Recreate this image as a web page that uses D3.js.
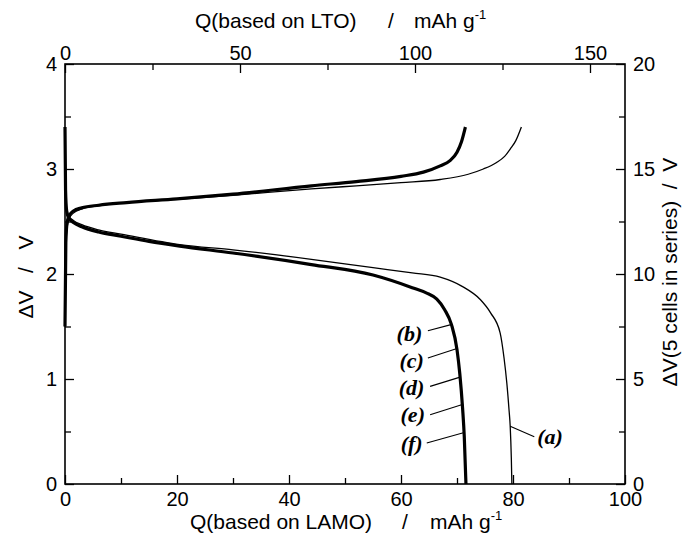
<!DOCTYPE html>
<html>
<head>
<meta charset="utf-8">
<script src="https://cdn.jsdelivr.net/npm/d3@7"></script>
<style>
  body { margin: 0; background: #fff; }
  .tick text { font-family: "Liberation Sans", Arial, sans-serif; font-size: 20px; fill: #000; }
  .title { font-family: "Liberation Sans", Arial, sans-serif; font-size: 21px; fill: #000; }
  .lab { font-family: "Liberation Serif", "Times New Roman", serif; font-size: 22px; font-weight: bold; font-style: italic; fill: #000; }
</style>
</head>
<body>
<svg id="chart" width="683" height="534"></svg>
<script>

// charge (upper) and discharge (lower) curves, Q based on LAMO / mAh g-1, dV / V
var chargeQ_a = [0, 0.15, 0.4, 0.8, 1.5, 3, 6, 11, 20, 30, 44, 52, 60, 67, 72, 74.7, 77, 78.5, 79.5, 80.5, 81.5];
var chargeV_a = [1.5, 2.25, 2.45, 2.53, 2.58, 2.62, 2.65, 2.68, 2.71, 2.75, 2.81, 2.84, 2.87, 2.9, 2.95, 3.0, 3.06, 3.12, 3.19, 3.27, 3.40];

var dischargeQ_a = [0, 0.1, 0.3, 0.7, 1.5, 3, 6, 10, 20.5, 30, 44, 55, 62, 67, 71, 74.1, 76, 77.7, 78.4, 78.9, 79.3, 79.5, 79.7, 79.8];
var dischargeV_a = [3.4, 2.8, 2.62, 2.55, 2.51, 2.47, 2.42, 2.38, 2.28, 2.23, 2.14, 2.06, 2.01, 1.97, 1.88, 1.76, 1.63, 1.44, 1.2, 0.96, 0.7, 0.55, 0.25, 0];

// (b)-(f) lie on top of each other, drawn as one heavy curve
var chargeQ_bf = [0, 0.15, 0.4, 0.8, 1.5, 3, 6, 11, 20, 30, 44, 52, 60, 64, 67, 68.75, 70, 70.8, 71.5];
var chargeV_bf = [1.5, 2.3, 2.5, 2.56, 2.6, 2.63, 2.655, 2.68, 2.715, 2.76, 2.84, 2.88, 2.93, 2.97, 3.03, 3.08, 3.16, 3.26, 3.40];

var dischargeQ_bf = [0, 0.1, 0.3, 0.7, 1.5, 3, 6, 10, 15, 20.5, 30, 44, 55, 62, 64.5, 66.4, 67.8, 69, 70, 70.5, 71, 71.3, 71.6];
var dischargeV_bf = [3.4, 2.8, 2.6, 2.53, 2.49, 2.45, 2.4, 2.36, 2.31, 2.265, 2.2, 2.09, 1.99, 1.87, 1.82, 1.76, 1.66, 1.52, 1.28, 1.05, 0.72, 0.45, 0];

// axis ticks
var bottomTicks = [0, 20, 40, 60, 80, 100];
var bottomMinor = [10, 30, 50, 70, 90];
var topTicks = [0, 50, 100, 150];
var topMinor = [25, 75, 125];
var leftTicks = [0, 1, 2, 3, 4];
var leftMinor = [0.5, 1.5, 2.5, 3.5];
var rightTicks = [0, 5, 10, 15, 20];
var rightMinor = [2.5, 7.5, 12.5, 17.5];

// curve labels: name, label position [Q, V], leader start, leader end on curve
var labelNames = ["(a)", "(b)", "(c)", "(d)", "(e)", "(f)"];
var labelPos = [[86.6, 0.45], [61.5, 1.44], [61.9, 1.18], [61.9, 0.92], [62.1, 0.66], [61.9, 0.39]];
var leaderFrom = [[83.8, 0.45], [64.8, 1.46], [64.8, 1.2], [65.2, 0.93], [65.2, 0.66], [64.6, 0.39]];
var leaderTo = [[79.5, 0.55], [69.1, 1.52], [70.0, 1.29], [70.7, 1.02], [71.1, 0.76], [71.3, 0.49]];

var margin = {left: 65, right: 58, top: 64, bottom: 50};
var W = 683, H = 534;

var svg = d3.select("#chart");

var x = d3.scaleLinear().domain([0, 100]).range([margin.left, W - margin.right]);
var xTop = d3.scaleLinear().domain([0, 160]).range([margin.left, W - margin.right]);
var y = d3.scaleLinear().domain([0, 4]).range([H - margin.bottom, margin.top]);
var yRight = d3.scaleLinear().domain([0, 20]).range([H - margin.bottom, margin.top]);

function drawAxis(axisGen, major, minor, transform, pad) {
  var g = svg.append("g").attr("transform", transform);
  g.call(axisGen.tickValues(major).tickSize(-9).tickPadding(pad).tickFormat(d3.format("d")));
  g.select(".domain").remove();
  g.selectAll(".tick line").attr("stroke", "#000").attr("stroke-width", 1.3);
  var m = svg.append("g").attr("transform", transform);
  m.call(axisGen.tickValues(minor).tickSize(-6).tickFormat(""));
  m.select(".domain").remove();
  m.selectAll(".tick line").attr("stroke", "#000").attr("stroke-width", 1.3);
  return g;
}

drawAxis(d3.axisBottom(x), bottomTicks, bottomMinor, "translate(0," + (H - margin.bottom) + ")", 8);
drawAxis(d3.axisTop(xTop), topTicks, topMinor, "translate(0," + margin.top + ")", 4);
drawAxis(d3.axisLeft(y), leftTicks, leftMinor, "translate(" + margin.left + ",0)", 8);
drawAxis(d3.axisRight(yRight), rightTicks, rightMinor, "translate(" + (W - margin.right) + ",0)", 8);

// frame
svg.append("rect")
  .attr("x", margin.left).attr("y", margin.top)
  .attr("width", W - margin.left - margin.right)
  .attr("height", H - margin.top - margin.bottom)
  .attr("fill", "none").attr("stroke", "#000").attr("stroke-width", 1.6);

var line = d3.line()
  .x(function(d) { return x(d[0]); })
  .y(function(d) { return y(d[1]); })
  .curve(d3.curveMonotoneX);

function pairs(qs, vs) {
  return qs.map(function(q, i) { return [q, vs[i]]; });
}

var curves = [
  {q: chargeQ_a, v: chargeV_a, w: 1.3},
  {q: dischargeQ_a, v: dischargeV_a, w: 1.3},
  {q: chargeQ_bf, v: chargeV_bf, w: 3.2},
  {q: dischargeQ_bf, v: dischargeV_bf, w: 3.2}
];

svg.selectAll("path.curve").data(curves).enter().append("path")
  .attr("class", "curve")
  .attr("d", function(c) { return line(pairs(c.q, c.v)); })
  .attr("fill", "none")
  .attr("stroke", "#000")
  .attr("stroke-width", function(c) { return c.w; });

// labels with leader lines
labelNames.forEach(function(name, i) {
  svg.append("line")
    .attr("x1", x(leaderFrom[i][0])).attr("y1", y(leaderFrom[i][1]))
    .attr("x2", x(leaderTo[i][0])).attr("y2", y(leaderTo[i][1]))
    .attr("stroke", "#000").attr("stroke-width", 1.1);
  svg.append("text").attr("class", "lab")
    .attr("x", x(labelPos[i][0])).attr("y", y(labelPos[i][1]))
    .attr("text-anchor", "middle").attr("dy", "0.35em")
    .text(name);
});

// axis titles, pieces placed where the reference has them
function unitTitle(g, text, xs) {
  g.append("tspan").attr("x", xs[0]).text(text);
  g.append("tspan").attr("x", xs[1]).text("/");
  g.append("tspan").attr("x", xs[2]).text("mAh g");
  g.append("tspan").attr("dy", -9).attr("font-size", 13).text("-1");
}

var tb = svg.append("text").attr("class", "title").attr("y", 529);
unitTitle(tb, "Q(based on LAMO)", [190, 402, 430]);

var tt = svg.append("text").attr("class", "title").attr("y", 28);
unitTitle(tt, "Q(based on LTO)", [195, 388, 414]);

svg.append("text").attr("class", "title")
  .attr("transform", "translate(33,277) rotate(-90)")
  .attr("text-anchor", "middle")
  .attr("xml:space", "preserve")
  .text("\u0394V   /   V");

svg.append("text").attr("class", "title")
  .attr("transform", "translate(677,272) rotate(-90)")
  .attr("text-anchor", "middle")
  .attr("xml:space", "preserve")
  .text("\u0394V(5 cells in series)  /  V");

</script>
</body>
</html>
